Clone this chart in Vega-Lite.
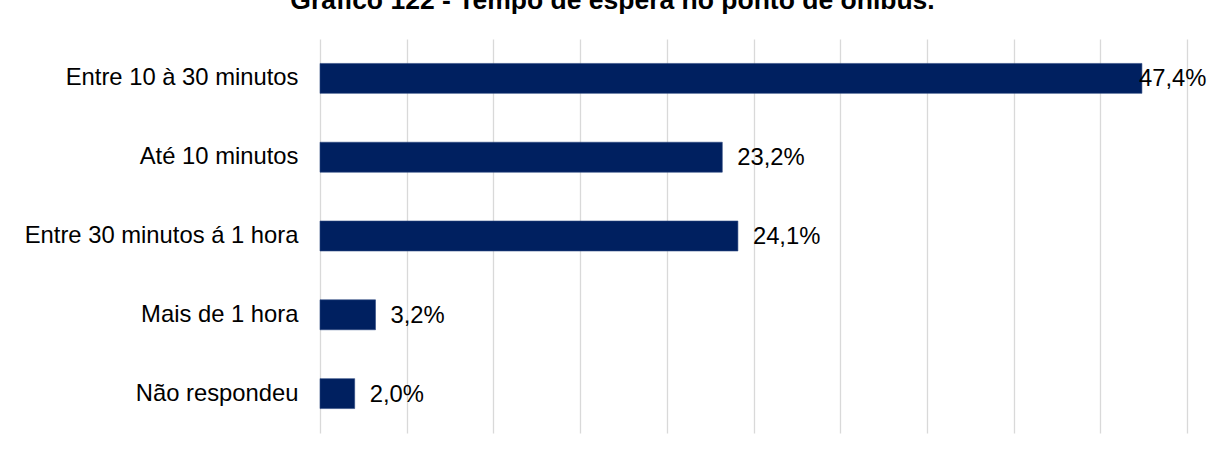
{
  "$schema": "https://vega.github.io/schema/vega-lite/v6.json",
  "autosize": "none",
  "width": 867,
  "height": 394,
  "padding": {"left": 320, "top": 39, "right": 29, "bottom": 21},
  "background": "white",
  "title": {
    "text": "Gráfico 122 - Tempo de espera no ponto de ônibus.",
    "font": "Liberation Sans",
    "fontSize": 26.5,
    "fontWeight": "bold",
    "color": "#000000",
    "anchor": "middle",
    "baseline": "alphabetic",
    "offset": 24,
    "dx": -141,
    "dy": 20
  },
  "data": {
    "values": [
      {"categoria": "Entre 10 à 30 minutos", "pct": 47.4, "rotulo": "47,4%"},
      {"categoria": "Até 10 minutos", "pct": 23.2, "rotulo": "23,2%"},
      {"categoria": "Entre 30 minutos á 1 hora", "pct": 24.1, "rotulo": "24,1%"},
      {"categoria": "Mais de 1 hora", "pct": 3.2, "rotulo": "3,2%"},
      {"categoria": "Não respondeu", "pct": 2.0, "rotulo": "2,0%"}
    ]
  },
  "encoding": {
    "y": {
      "field": "categoria",
      "type": "nominal",
      "sort": null,
      "scale": {"paddingInner": 0.62, "paddingOuter": 0.31},
      "axis": {
        "title": null,
        "ticks": false,
        "tickSize": 0,
        "domain": false,
        "labelPadding": 22,
        "labelFont": "Liberation Sans",
        "labelFontSize": 23.8,
        "labelColor": "#000000",
        "labelLimit": 400
      }
    },
    "x": {
      "field": "pct",
      "type": "quantitative",
      "scale": {"domain": [0, 50], "nice": false, "zero": true},
      "axis": {
        "title": null,
        "labels": false,
        "ticks": false,
        "domain": false,
        "values": [0, 5, 10, 15, 20, 25, 30, 35, 40, 45, 50],
        "grid": true,
        "gridColor": "#d9d9d9",
        "gridWidth": 1.3
      }
    }
  },
  "layer": [
    {
      "mark": {"type": "bar", "color": "#002060", "stroke": "#2a4680", "strokeWidth": 0.6}
    },
    {
      "transform": [{"filter": "datum.pct < 40"}],
      "mark": {"type": "text", "align": "left", "baseline": "middle", "dx": 15, "dy": 1, "font": "Liberation Sans", "fontSize": 23.8, "color": "#000000"},
      "encoding": {"text": {"field": "rotulo"}}
    },
    {
      "transform": [{"filter": "datum.pct >= 40"}],
      "mark": {"type": "text", "align": "left", "baseline": "middle", "dx": -3, "dy": 1, "font": "Liberation Sans", "fontSize": 23.8, "color": "#000000"},
      "encoding": {"text": {"field": "rotulo"}}
    }
  ],
  "config": {"view": {"stroke": null}}
}
